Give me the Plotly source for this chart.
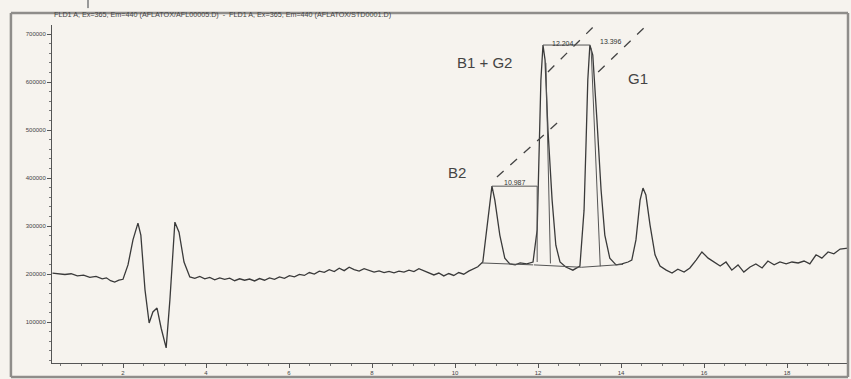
import plotly.graph_objects as go

# ---- data (retention time in min, detector signal) ----
time_min = [
    0.30, 0.45, 0.60, 0.75, 0.90, 1.05, 1.20, 1.35, 1.50, 1.60, 1.70, 1.80, 1.90, 2.00,
    2.12, 2.24, 2.36, 2.43, 2.53, 2.63, 2.72, 2.82, 2.92, 3.04, 3.13, 3.25, 3.35, 3.47,
    3.61, 3.73, 3.85, 3.97, 4.09, 4.21, 4.33, 4.45, 4.57, 4.69, 4.81, 4.93, 5.05, 5.17,
    5.29, 5.41, 5.53, 5.65, 5.77, 5.89, 6.01, 6.13, 6.25, 6.37, 6.49, 6.61, 6.73, 6.85,
    6.97, 7.09, 7.21, 7.33, 7.45, 7.57, 7.69, 7.81, 7.93, 8.05, 8.17, 8.29, 8.41, 8.53,
    8.65, 8.77, 8.89, 9.01, 9.13, 9.25, 9.37, 9.49, 9.61, 9.73, 9.85, 9.97, 10.09, 10.21,
    10.33, 10.45, 10.55,
    10.67, 10.77, 10.85, 10.89, 10.96, 11.08, 11.20, 11.32, 11.45, 11.57, 11.73, 11.88,
    11.98, 12.02, 12.07, 12.12, 12.17, 12.24, 12.34, 12.43, 12.53, 12.67, 12.84, 13.01,
    13.11, 13.16, 13.20, 13.25, 13.32, 13.42, 13.52, 13.61, 13.73, 13.88, 14.02, 14.17, 14.26,
    14.36, 14.46, 14.53, 14.60, 14.70, 14.82, 14.94, 15.09, 15.23, 15.37, 15.52, 15.66,
    15.81, 15.95, 16.10, 16.24, 16.39, 16.53, 16.67, 16.82, 16.96, 17.11, 17.25, 17.40,
    17.54, 17.69, 17.83, 17.98, 18.12, 18.27, 18.41, 18.55, 18.70, 18.84, 18.99, 19.13,
    19.28, 19.47,
]
signal = [
    202000, 201000, 199000, 200500, 196000, 197500, 193000, 195000, 190000, 192000, 186000, 183000, 187000, 189000,
    219000, 271000, 306000, 281000, 167000, 98000, 121000, 129000, 87000, 46000, 146000, 308000, 287000, 225000,
    194000, 191000, 195000, 190000, 193000, 188000, 192000, 189000, 191500, 186000, 190000, 187000, 189500, 185500,
    190500, 187000, 192000, 189000, 194000, 191000, 196500, 194000, 199000, 197000, 203000, 200000, 206000, 203500,
    209000, 205000, 212000, 207000, 214000, 209000, 206000, 211000, 207500, 204000, 206500, 203000, 205500, 202500,
    206000, 204000, 208000, 205000, 211000, 207000, 203000, 198000, 202000, 196000, 201000, 197000, 203000, 199500,
    206000, 210000, 215000,
    225000, 302000, 364500, 383000, 354000, 281000, 233000, 221000, 219000, 223000, 221000, 225000,
    292000, 458000, 604000, 677000, 646000, 500000, 354000, 260000, 225000, 214500, 208000, 216500,
    333000, 479000, 604000, 677000, 656000, 521000, 375000, 281000, 233000, 219000, 221000, 225000, 229000,
    271000, 354000, 379000, 364500, 302000, 240000, 216500, 208000, 202000, 210000, 204000, 212500,
    229000, 246000, 233000, 225000, 216500, 225000, 208000, 219000, 204000, 214500, 221000, 212500,
    227000, 219000, 225000, 221000, 225000, 223000, 227000, 221000, 240000, 233000, 246000, 242000,
    252000, 254000,
]

peak_names = ["B2", "B1 + G2", "G1"]
peak_name_t = [10.05, 10.72, 14.41]
peak_name_v = [412500, 641600, 608000]

rt_labels = ["10.987", "12.204", "13.396"]
rt_label_t = [11.45, 12.60, 13.76]
rt_label_v = [391000, 681000, 684000]

# dashed leader lines (start t, start v, end t, end v)
leader_t0 = [11.01, 12.24, 13.45]
leader_v0 = [402000, 621000, 621000]
leader_t1 = [12.46, 13.45, 14.63]
leader_v1 = [514500, 725000, 719000]

# integration baselines
base_t0 = [10.65, 11.90, 13.05]
base_v0 = [223000, 219000, 214000]
base_t1 = [11.88, 13.05, 14.05]
base_v1 = [219000, 214000, 220000]

y_ticks = [100000, 200000, 300000, 400000, 500000, 600000, 700000]
x_ticks = [2, 4, 6, 8, 10, 12, 14, 16, 18]

header = "FLD1 A, Ex=365, Em=440 (AFLATOX/AFL00005.D)  -  FLD1 A, Ex=365, Em=440 (AFLATOX/STD0001.D)"

BG = "#f6f3ee"
INK = "#3a3a3a"
FRAME = "#8f8d8a"

fig = go.Figure()
fig.add_trace(go.Scatter(x=time_min, y=signal, mode="lines",
                         line=dict(color=INK, width=1.3), showlegend=False,
                         hoverinfo="skip"))

# integration baselines
for a, b, c, d in zip(base_t0, base_v0, base_t1, base_v1):
    fig.add_shape(type="line", x0=a, y0=b, x1=c, y1=d, xref="x", yref="y",
                  line=dict(color="#555", width=1))

# retention time brackets
fig.add_shape(type="line", x0=10.89, y0=383000, x1=11.98, y1=383000,
              line=dict(color="#555", width=1))
fig.add_shape(type="line", x0=11.98, y0=383000, x1=11.98, y1=225000,
              line=dict(color="#555", width=1))
fig.add_shape(type="line", x0=12.12, y0=677000, x1=13.25, y1=677000,
              line=dict(color="#555", width=1))
fig.add_shape(type="line", x0=12.19, y0=640000, x1=12.30, y1=222000,
              line=dict(color="#555", width=1))
fig.add_shape(type="line", x0=13.28, y0=670000, x1=13.50, y1=216000,
              line=dict(color="#555", width=1))

# leader lines
for a, b, c, d in zip(leader_t0, leader_v0, leader_t1, leader_v1):
    fig.add_shape(type="line", x0=a, y0=b, x1=c, y1=d, xref="x", yref="y",
                  line=dict(color="#444", width=1.3, dash="dash"))

for name, t, v in zip(peak_names, peak_name_t, peak_name_v):
    fig.add_annotation(x=t, y=v, text=name, showarrow=False,
                       font=dict(family="Liberation Sans, Arial", size=15, color="#444"))

for lab, t, v in zip(rt_labels, rt_label_t, rt_label_v):
    fig.add_annotation(x=t, y=v, text=lab, showarrow=False,
                       font=dict(family="Liberation Sans, Arial", size=7, color="#333"))

# header text
fig.add_annotation(x=0.0, y=1.031, xref="paper", yref="paper", xanchor="left",
                   yanchor="middle", text=header, showarrow=False,
                   font=dict(family="Liberation Sans, Arial", size=7.2, color="#444"))

# outer frame (drawn as separate edges)
frame_edges = [(-0.0516, -0.0414, -0.0516, 1.0355),
               (-0.0516, 1.0355, 1.0, 1.0355),
               (1.0, 1.0355, 1.0, -0.0414),
               (-0.0516, -0.0414, 1.0, -0.0414)]
for a, b, c, d in frame_edges:
    fig.add_shape(type="line", xref="paper", yref="paper", x0=a, y0=b, x1=c, y1=d,
                  line=dict(color=FRAME, width=2.5))
fig.add_shape(type="line", xref="paper", yref="paper",
              x0=0.0452, x1=0.0452, y0=1.05, y1=1.08,
              line=dict(color="#999", width=2))

fig.update_layout(
    width=851, height=379,
    margin=dict(l=52, r=3, t=25, b=16),
    paper_bgcolor=BG, plot_bgcolor=BG,
    showlegend=False,
    xaxis=dict(range=[0.289, 19.47], tickvals=x_ticks, ticktext=[str(v) for v in x_ticks],
               showgrid=False, zeroline=False, showline=True, linecolor="#555", linewidth=1,
               ticks="outside", ticklen=4, tickcolor="#555",
               tickfont=dict(size=6, color="#444", family="Liberation Sans, Arial"),
               minor=dict(dtick=0.5, tick0=0, ticks="outside", ticklen=2, tickcolor="#777")),
    yaxis=dict(range=[14583, 718750], tickvals=y_ticks, ticktext=[str(v) for v in y_ticks],
               showgrid=False, zeroline=False, showline=True, linecolor="#555", linewidth=1,
               ticks="outside", ticklen=4, tickcolor="#555",
               tickfont=dict(size=6, color="#444", family="Liberation Sans, Arial"),
               minor=dict(dtick=20000, tick0=0, ticks="outside", ticklen=2, tickcolor="#777")),
)

fig.write_html("out.html", config={"displayModeBar": False},
               post_script="document.body.style.margin='0';document.body.style.background='%s';" % BG)
